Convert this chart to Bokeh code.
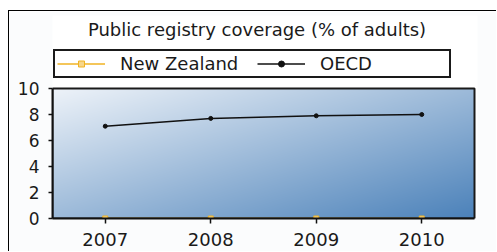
import numpy as np
from bokeh.plotting import figure
from bokeh.models import (ColumnDataSource, Range1d, FixedTicker, Legend, LegendItem, Label)
from bokeh.embed import file_html
from bokeh.resources import INLINE

# ---- data ----
years = ["2007", "2008", "2009", "2010"]
new_zealand = [0, 0, 0, 0]
oecd = [7.1, 7.7, 7.9, 8.0]
y_ticks = [0, 2, 4, 6, 8, 10]
title_text = "Public registry coverage (% of adults)"

FONT = "DejaVu Sans"
xs = list(range(len(years)))
x_lo, x_hi = -0.5, len(years) - 0.5
y_lo, y_hi = y_ticks[0], y_ticks[-1]

# layout (pixels)
PLOT_W, PLOT_H = 422, 130        # visible plot-area size
HEAD = 73                        # room above plot area for title + legend (inside frame)
EXTRA_R = 3                      # room for the right border line
px_x = (x_hi - x_lo) / PLOT_W
px_y = (y_hi - y_lo) / PLOT_H

p = figure(width=488, height=241, output_backend="svg", toolbar_location=None,
           x_range=Range1d(x_lo, x_hi + EXTRA_R * px_x),
           y_range=Range1d(y_lo, y_hi + HEAD * px_y),
           min_border_left=43, min_border_right=23 - EXTRA_R, min_border_top=4, min_border_bottom=34)
p.styles = {"border-top": "1px solid #000", "border-left": "1px solid #000",
            "margin-top": "10px", "margin-left": "8px"}
p.background_fill_color = None
p.border_fill_color = "#fbfcfd"
p.outline_line_color = None
p.grid.visible = False

# gradient background (light top-left -> blue bottom-right)
yy, xx = np.mgrid[0:PLOT_H, 0:PLOT_W]  # row 0 = bottom of image
darkness = 0.5 * (xx / (PLOT_W - 1)) + 0.5 * (1 - yy / (PLOT_H - 1))
c0 = np.array([238, 243, 249])
c1 = np.array([76, 130, 186])
img = np.empty((PLOT_H, PLOT_W), dtype=np.uint32)
view = img.view(dtype=np.uint8).reshape((PLOT_H, PLOT_W, 4))
for k in range(3):
    view[:, :, k] = (c0[k] + (c1[k] - c0[k]) * darkness).astype(np.uint8)
view[:, :, 3] = 255
p.image_rgba(image=[img], x=x_lo, y=y_lo, dw=x_hi - x_lo, dh=y_hi - y_lo, level="image")

# plot-area border (top and right edges; left/bottom are the axes)
p.quad(left=[x_lo], right=[x_hi], bottom=[y_lo], top=[y_hi], fill_color=None,
       line_color="#1a1a1a", line_width=2)

src = ColumnDataSource(dict(x=xs, nz=new_zealand, oecd=oecd))
nz_line = p.line("x", "nz", source=src, line_color="#f0b323", line_width=1.5)
nz_mark = p.scatter("x", "nz", source=src, marker="square", size=5, line_color="#f0b323",
                    fill_color="#f7d68a")
oe_line = p.line("x", "oecd", source=src, line_color="#111111", line_width=1.5)
oe_mark = p.scatter("x", "oecd", source=src, marker="circle", size=4, line_color="#111111",
                    fill_color="#111111")

# axes
for ax in (p.xaxis[0], p.yaxis[0]):
    ax.axis_line_color = "#111111"
    ax.axis_line_width = 2
    ax.major_tick_line_color = "#111111"
    ax.major_tick_line_width = 1.5
    ax.minor_tick_line_color = None
    ax.major_label_text_font = FONT
    ax.major_label_text_color = "#1a1a1a"
p.xaxis.ticker = FixedTicker(ticks=xs)
p.xaxis.bounds = (x_lo, x_hi)
p.xaxis.major_label_overrides = {i: y for i, y in enumerate(years)}
p.xaxis.major_tick_out = 5
p.xaxis.major_tick_in = 0
p.xaxis.major_label_standoff = 9
p.xaxis.major_label_text_font_size = "18px"
p.yaxis.ticker = FixedTicker(ticks=y_ticks)
p.yaxis.bounds = (y_lo, y_hi)
p.yaxis.major_tick_out = 4
p.yaxis.major_tick_in = 0
p.yaxis.major_label_standoff = 9
p.yaxis.major_label_text_font_size = "17px"

legend = Legend(items=[LegendItem(label="New Zealand", renderers=[nz_line, nz_mark]),
                       LegendItem(label="OECD", renderers=[oe_line, oe_mark])],
                orientation="horizontal", location=(1, PLOT_H + 10),
                padding=2, margin=0, spacing=10, glyph_width=48, glyph_height=15,
                label_height=15, label_width=127, label_standoff=15,
                label_text_font=FONT, label_text_font_size="18px", label_text_color="#1a1a1a",
                border_line_color="#1a1a1a", border_line_width=2, border_line_alpha=1,
                background_fill_color="#ffffff", background_fill_alpha=1)
p.add_layout(legend, "center")

title = Label(x=204.5, y=PLOT_H + 59, x_units="screen", y_units="screen", text=title_text,
              text_align="center", text_baseline="alphabetic",
              text_font=FONT, text_font_size="18px", text_color="#1a1a1a")
p.add_layout(title)

open("out.html", "w").write(file_html(p, INLINE))
